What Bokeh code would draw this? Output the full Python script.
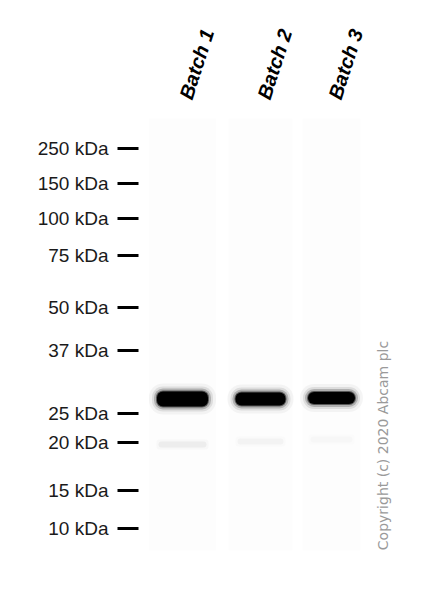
from bokeh.plotting import figure
from bokeh.models import Range1d, FixedTicker, ColumnDataSource
from bokeh.core.properties import value
from bokeh.embed import file_html
from bokeh.resources import INLINE
import math

# ---- data (positions in image pixels from the top) ----
marker_labels = ["250 kDa", "150 kDa", "100 kDa", "75 kDa", "50 kDa",
                 "37 kDa", "25 kDa", "20 kDa", "15 kDa", "10 kDa"]
marker_pos = [148, 183, 218, 255, 307, 350, 413, 442, 490, 528]

lanes = ["Batch 1", "Batch 2", "Batch 3"]
lane_x = [182, 260, 331]
lane_width = [67, 64, 58]
blot_top = 118
blot_bottom = 550

band_y = [398.5, 398.5, 397.5]
band_width = [51, 50, 47]
band_height = [15, 13, 12]

faint_y = [444, 441, 439]
faint_width = [46, 44, 40]
faint_alpha = [0.08, 0.05, 0.03]

copyright_text = "Copyright (c) 2020 Abcam plc"

p = figure(width=431, height=584, output_backend="svg", toolbar_location=None,
           x_range=Range1d(138, 431), y_range=Range1d(584, 0),
           min_border_left=138, min_border_right=0, min_border_top=0,
           min_border_bottom=0, x_axis_location=None)
p.grid.visible = False
p.outline_line_color = None
p.background_fill_color = "white"

# marker ladder as left axis
ya = p.yaxis[0]
ya.ticker = FixedTicker(ticks=marker_pos)
ya.major_label_overrides = {m: l for m, l in zip(marker_pos, marker_labels)}
ya.axis_line_color = None
ya.minor_tick_line_color = None
ya.major_tick_in = 0
ya.major_tick_out = 21
ya.major_tick_line_width = 3
ya.major_tick_line_color = "black"
ya.major_tick_line_cap = "butt"
ya.major_label_standoff = 9
ya.major_label_text_font = "Liberation Sans"
ya.major_label_text_font_size = "19px"
ya.major_label_text_color = "#1a1a1a"

# lane backgrounds (barely visible)
lsrc = ColumnDataSource(dict(
    left=[x - w / 2 for x, w in zip(lane_x, lane_width)],
    right=[x + w / 2 for x, w in zip(lane_x, lane_width)],
    top=[blot_top] * 3, bottom=[blot_bottom] * 3))
p.quad(left="left", right="right", top="top", bottom="bottom", source=lsrc,
       fill_color="#fdfdfd", fill_alpha=1.0, line_color=None)

# faint lower bands
for pad, a in [(3, 0.5), (1, 1.0)]:
    p.quad(left=[x - w / 2 - pad for x, w in zip(lane_x, faint_width)],
           right=[x + w / 2 + pad for x, w in zip(lane_x, faint_width)],
           top=[y - 2 - pad for y in faint_y], bottom=[y + 2 + pad for y in faint_y],
           fill_color="#777777", fill_alpha=[fa * a for fa in faint_alpha],
           line_color=None, border_radius=3)

# main bands with soft halo
for pad, a in [(8, 0.04), (5, 0.09), (3, 0.2), (1, 0.5), (0, 1.0)]:
    p.quad(left=[x - w / 2 - pad for x, w in zip(lane_x, band_width)],
           right=[x + w / 2 + pad for x, w in zip(lane_x, band_width)],
           top=[y - h / 2 - pad for y, h in zip(band_y, band_height)],
           bottom=[y + h / 2 + pad for y, h in zip(band_y, band_height)],
           fill_color="black", fill_alpha=a, line_color=None,
           border_radius=6 + pad)

# lane labels
p.text(x=lane_x, y=[98] * 3, text=lanes, x_offset=3, angle=math.radians(72),
       text_font=value("Liberation Sans"), text_font_style="bold italic",
       text_font_size="20px", text_align="left", text_baseline="alphabetic",
       text_color="black")

# copyright
p.text(x=[382], y=[445], text=[copyright_text], angle=math.pi / 2,
       text_font=value("DejaVu Sans"), text_font_size="14px",
       text_align="center", text_baseline="middle", text_color="#9a9a9a")

open("out.html", "w").write(file_html(p, INLINE))
